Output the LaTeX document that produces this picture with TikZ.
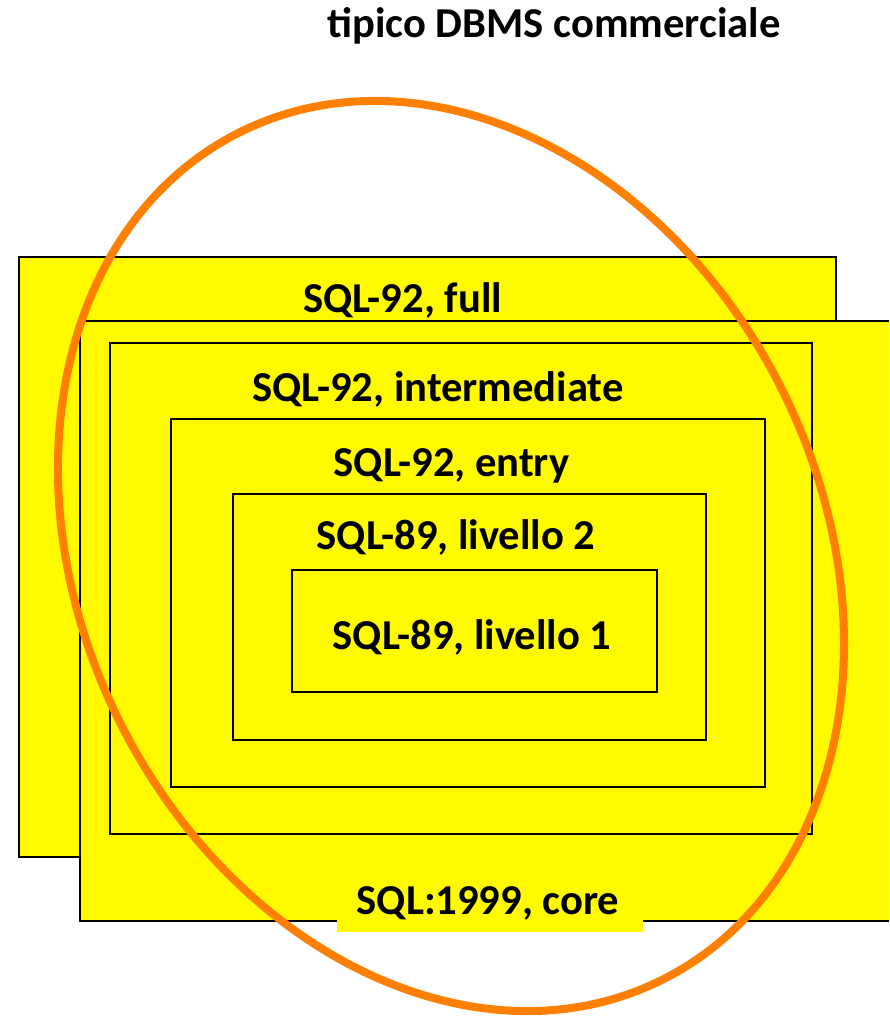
\documentclass[tikz,border=0pt]{standalone}
\usepackage{fontspec}
\setmainfont{Carlito}
\definecolor{boxyellow}{RGB}{255,250,0}
\definecolor{ringorange}{RGB}{255,128,0}
\begin{document}
\begin{tikzpicture}[x=1pt,y=1pt,
  levelbox/.style={fill=boxyellow,draw=black,line width=2pt},
  lbl/.style={anchor=base,inner sep=0pt,font=\fontsize{42.6}{50}\selectfont\bfseries},
  ring/.style={draw=ringorange,line width=8pt}]
\useasboundingbox (0,0) rectangle (889,1017);
\clip (0,0) rectangle (889,1017);
% boxes (pixel y measured from top: y = 1017 - ypx)
\path[levelbox] (19,160) rectangle (836,760);   % full
\path[levelbox] (80,96) rectangle (905,696);    % core
\path[levelbox] (110,183) rectangle (812,674);  % intermediate
\path[levelbox] (171,230) rectangle (765,598);  % entry
\path[levelbox] (233,277) rectangle (706,523);  % livello 2
\path[levelbox] (292,325) rectangle (657,447);  % livello 1
% ring
\coordinate (c) at (451,461);
\draw[ring,rotate around={26.4:(c)}] (c) ellipse [x radius=370.5, y radius=473.5];
% labels
\node[lbl] (title) at (554,979) {tipico DBMS commerciale};
\node[lbl] (full) at (402.5,704) {SQL-92, full};
\node[lbl] (inter) at (438,615) {SQL-92, intermediate};
\node[lbl] (entry) at (451.5,540) {SQL-92, entry};
\node[lbl] (l2) at (456,467) {SQL-89, livello 2};
\node[lbl] (l1) at (472,367) {SQL-89, livello 1};
\fill[boxyellow] (337,85) rectangle (643,130);
\node[lbl] (core) at (488,102) {SQL:1999, core};
\end{tikzpicture}
\end{document}
